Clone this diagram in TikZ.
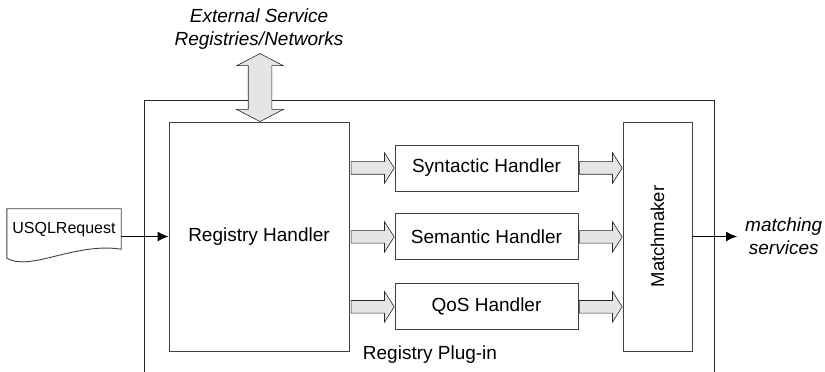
\documentclass[tikz,border=0pt]{standalone}
\usepackage{fontspec}
\setmainfont{Liberation Sans}
\usepackage{graphicx}
\usetikzlibrary{positioning,arrows.meta,shapes.arrows,calc}
\tikzstyle{block} = [draw=black!75, fill=white, rectangle, line width=0.9pt]
\tikzstyle{handler} = [block, minimum width=183pt, minimum height=46pt]
\tikzstyle{fatarrow} = [draw=black!85, fill=black!10, single arrow,
    single arrow head extend=9pt, single arrow tip angle=115,
    minimum height=43pt, inner xsep=0pt, inner ysep=6pt, line width=0.6pt]
\tikzstyle{dblarrow} = [draw=black!85, fill=black!10, double arrow,
    double arrow head extend=11.5pt, double arrow tip angle=125,
    minimum height=68pt, inner xsep=0pt, inner ysep=11.5pt, rotate=90, line width=0.6pt]
\tikzstyle{itext} = [font=\fontsize{19}{23}\selectfont\itshape, align=center]
\begin{document}
\begin{tikzpicture}[x=1pt, y=1pt, auto, node distance=22pt,
    >={Latex[length=11pt,width=10pt]},
    every node/.append style={font=\fontsize{19}{23}\selectfont}]
	  \useasboundingbox (0,0) rectangle (825,372);
	  \draw [black!85, line width=0.9pt] (144,0) -- (144,272) -- (714,272) -- (714,0);
	  \node [block, minimum width=180pt, minimum height=229pt] (rh) at (259,135.5) {Registry Handler};
	  \node [block, minimum width=69pt, minimum height=229pt, font=\fontsize{18.5}{22}\selectfont] (mm) at (657.5,135.5) {\rotatebox{90}{Matchmaker}};
	  \node [handler] (syn) at (486.5,204) {Syntactic Handler};
	  \node [handler, below=22pt of syn] (sem) {Semantic Handler};
	  \node [handler, below=23pt of sem] (qos) {QoS Handler};
	  \node [fatarrow, anchor=tip] (rhsyn) at (syn.west) {};
	  \node [fatarrow, anchor=tip] (rhsem) at (sem.west) {};
	  \node [fatarrow, anchor=tip] (rhqos) at (qos.west) {};
	  \node [fatarrow, anchor=tip] (synmm) at (mm.west |- syn) {};
	  \node [fatarrow, anchor=tip] (semmm) at (mm.west |- sem) {};
	  \node [fatarrow, anchor=tip] (qosmm) at (mm.west |- qos) {};
	  \node [dblarrow] (extarrow) at ($(rh.north)+(1,34)$) {};
	  \node [itext] (ext) at (259,343) {External Service\\Registries/Networks};
	  \node [anchor=base] (plugin) at (430,12) {Registry Plug-in};
	  \node [minimum width=114pt, minimum height=42pt, inner sep=0pt,
	    font=\fontsize{16}{19}\selectfont] (req) at (64,142) {USQLRequest};
	  \draw [black!75, line width=0.9pt] (req.north west) -- ($(req.south west)+(0,-7)$)
	    .. controls (30,100) and (75,130) .. ($(req.south east)+(0,2)$) -- (req.north east) -- cycle;
	  \node [itext, anchor=west, inner xsep=8pt] (out) at (737,135.5) {matching\\services};
	  \draw [->, line width=1.1pt] (req.east |- rh.west) -- (rh.west);
	  \draw [->, line width=1.1pt] (mm.east) -- (out.west);
	\end{tikzpicture}
\end{document}
